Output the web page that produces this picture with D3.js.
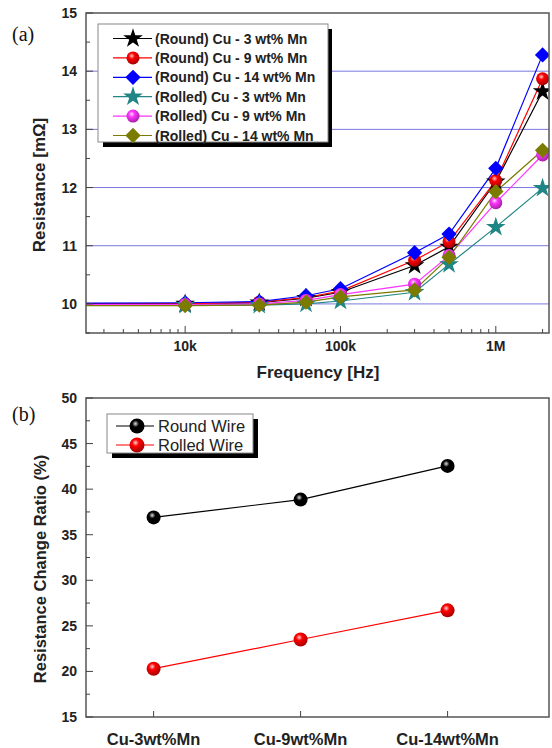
<!DOCTYPE html>
<html>
  <head>
    <meta charset="utf-8">
    <title>Resistance vs Frequency</title>
    <style>
      body { margin: 0; background: #fff; }
      svg text { font-family: Arial, 'Liberation Sans', sans-serif; }
      .tick-label { font-size: 14px; font-weight: bold; fill: #222; }
      .axis-title { font-size: 17px; font-weight: bold; fill: #222; }
      .panel-tag { font-family: 'Liberation Serif', 'DejaVu Serif', serif !important; font-size: 20px; fill: #111; }
      .legend-a { font-size: 14px; font-weight: bold; fill: #222; }
      .legend-b { font-size: 16.5px; fill: #222; }
    </style>
  </head>
  <body>
    <svg width="552" height="748"></svg>
    <script src="https://d3js.org/d3.v7.min.js"></script>
    <script>
      // ---- data: panel (a)
      const freqs = [1000, 10000, 30000, 60000, 100000, 300000, 500000, 1000000, 2000000];
      const seriesNames = [
        '(Round) Cu - 3 wt% Mn', '(Round) Cu - 9 wt% Mn', '(Round) Cu - 14 wt% Mn',
        '(Rolled) Cu - 3 wt% Mn', '(Rolled) Cu - 9 wt% Mn', '(Rolled) Cu - 14 wt% Mn'
      ];
      const round3  = [10.0, 10.0, 10.02, 10.1, 10.2, 10.66, 10.98, 12.1, 13.65];
      const round9  = [10.0, 10.0, 10.03, 10.11, 10.22, 10.75, 11.07, 12.12, 13.87];
      const round14 = [10.01, 10.02, 10.04, 10.14, 10.26, 10.88, 11.2, 12.33, 14.28];
      const rolled3  = [9.98, 9.98, 9.98, 10.0, 10.05, 10.2, 10.68, 11.32, 11.99];
      const rolled9  = [9.99, 9.99, 10.0, 10.06, 10.16, 10.34, 10.83, 11.74, 12.56];
      const rolled14 = [9.97, 9.97, 9.98, 10.03, 10.12, 10.24, 10.8, 11.93, 12.64];
      const freqTicks = [10000, 100000, 1000000];
      const freqTickLabels = ['10k', '100k', '1M'];
      const resTicks = [10, 11, 12, 13, 14, 15];

      // ---- data: panel (b)
      const alloys = ['Cu-3wt%Mn', 'Cu-9wt%Mn', 'Cu-14wt%Mn'];
      const roundRatio = [36.9, 38.85, 42.55];
      const rolledRatio = [20.3, 23.5, 26.7];
      const wireNames = ['Round Wire', 'Rolled Wire'];
      const ratioTicks = [15, 20, 25, 30, 35, 40, 45, 50];

      const svg = d3.select('svg');
      const defs = svg.append('defs');

      // glossy ball gradients
      const ballColors = { black: ['#ddd', '#000'], red: ['#ffd0d0', '#ff0000'], magenta: ['#ffe0ff', '#ff33ff'] };
      Object.entries(ballColors).forEach(([k, c]) => {
        const g = defs.append('radialGradient').attr('id', 'ball-' + k)
          .attr('cx', '40%').attr('cy', '35%').attr('r', '65%');
        g.append('stop').attr('offset', '0%').attr('stop-color', c[0]);
        g.append('stop').attr('offset', '35%').attr('stop-color', c[1]);
        g.append('stop').attr('offset', '100%').attr('stop-color', d3.color(c[1]).darker(1.2));
      });

      const star = d3.symbol().type(d3.symbolStar).size(120);
      const diamond = d3.symbol().type(d3.symbolDiamond2).size(150);

      function drawMarker(g, kind, color, ball, x, y, r) {
        if (kind === 'star') {
          g.append('path').attr('d', star()).attr('transform', `translate(${x},${y})`).attr('fill', color);
        } else if (kind === 'diamond') {
          g.append('path').attr('d', diamond()).attr('transform', `translate(${x},${y})`).attr('fill', color);
        } else {
          g.append('circle').attr('cx', x).attr('cy', y).attr('r', r || 6)
            .attr('fill', `url(#ball-${ball})`);
        }
      }

      // ================= panel (a)
      const A = { left: 86, right: 549, top: 13, bottom: 333 };
      const xA = d3.scaleLog().domain([2300, 2200000]).range([A.left, A.right]);
      const yA = d3.scaleLinear().domain([9.5, 15]).range([A.bottom, A.top]);

      const pa = svg.append('g');
      defs.append('clipPath').attr('id', 'clipA').append('rect')
        .attr('x', A.left).attr('y', A.top).attr('width', A.right - A.left).attr('height', A.bottom - A.top);

      // grid
      pa.selectAll('line.grid').data(resTicks.filter(d => d < 15)).enter().append('line')
        .attr('x1', A.left).attr('x2', A.right)
        .attr('y1', d => yA(d)).attr('y2', d => yA(d))
        .attr('stroke', '#7878e0').attr('stroke-width', 1);

      const seriesA = [
        { vals: round3, color: '#000000', kind: 'star' },
        { vals: round9, color: '#ff0000', kind: 'ball', ball: 'red' },
        { vals: round14, color: '#0000ff', kind: 'diamond' },
        { vals: rolled3, color: '#208585', kind: 'star' },
        { vals: rolled9, color: '#ff33ff', kind: 'ball', ball: 'magenta' },
        { vals: rolled14, color: '#7b7b00', kind: 'diamond' }
      ];
      const lineA = d3.line().x((d, i) => xA(freqs[i])).y(d => yA(d));
      const plotA = pa.append('g').attr('clip-path', 'url(#clipA)');
      seriesA.forEach(s => {
        plotA.append('path').attr('d', lineA(s.vals)).attr('fill', 'none')
          .attr('stroke', s.color).attr('stroke-width', 1.2);
      });
      seriesA.forEach(s => {
        const g = plotA.append('g');
        s.vals.forEach((v, i) => drawMarker(g, s.kind, s.color, s.ball, xA(freqs[i]), yA(v), 6.5));
      });

      // frame
      pa.append('rect').attr('x', A.left).attr('y', A.top)
        .attr('width', A.right - A.left).attr('height', A.bottom - A.top)
        .attr('fill', 'none').attr('stroke', '#555').attr('stroke-width', 1.5);

      // y ticks
      const yMinorA = d3.range(9.5, 15.01, 0.5);
      pa.selectAll('line.yt').data(yMinorA).enter().append('line')
        .attr('x1', A.left).attr('x2', d => A.left + (d % 1 === 0 ? 7 : 4))
        .attr('y1', d => yA(d)).attr('y2', d => yA(d)).attr('stroke', '#444');
      pa.selectAll('text.yl').data(resTicks).enter().append('text')
        .attr('class', 'tick-label').attr('x', A.left - 9).attr('y', d => yA(d) + 5)
        .attr('text-anchor', 'end').text(d => d);

      // x ticks
      const xMinorA = [];
      [1000, 10000, 100000, 1000000].forEach(dec => {
        for (let k = 1; k < 10; k++) {
          const f = dec * k;
          if (f >= 2300 && f <= 2200000) xMinorA.push(f);
        }
      });
      pa.selectAll('line.xt').data(xMinorA).enter().append('line')
        .attr('x1', d => xA(d)).attr('x2', d => xA(d))
        .attr('y1', A.bottom).attr('y2', d => A.bottom - (freqTicks.includes(d) ? 7 : 4))
        .attr('stroke', '#444');
      pa.selectAll('text.xl').data(freqTicks).enter().append('text')
        .attr('class', 'tick-label').attr('x', d => xA(d)).attr('y', A.bottom + 18)
        .attr('text-anchor', 'middle').text((d, i) => freqTickLabels[i]);

      pa.append('text').attr('class', 'axis-title').attr('x', 318).attr('y', 378)
        .attr('text-anchor', 'middle').text('Frequency [Hz]');
      pa.append('text').attr('class', 'axis-title')
        .attr('transform', 'translate(45,185) rotate(-90)')
        .attr('text-anchor', 'middle').text('Resistance [mΩ]');
      pa.append('text').attr('class', 'panel-tag').attr('x', 12).attr('y', 41).text('(a)');

      // legend (a)
      const la = pa.append('g');
      la.append('rect').attr('x', 103).attr('y', 29).attr('width', 229).attr('height', 118).attr('fill', '#000');
      la.append('rect').attr('x', 98).attr('y', 24).attr('width', 230).attr('height', 118)
        .attr('fill', '#fff').attr('stroke', '#888').attr('stroke-width', 1);
      seriesA.forEach((s, i) => {
        const y = 38.5 + i * 19.4;
        la.append('line').attr('x1', 113).attr('x2', 152).attr('y1', y).attr('y2', y)
          .attr('stroke', s.color).attr('stroke-width', 1.2);
        drawMarker(la, s.kind, s.color, s.ball, 133, y, 6.5);
        la.append('text').attr('class', 'legend-a').attr('x', 155).attr('y', y + 5).text(seriesNames[i]);
      });

      // ================= panel (b)
      const B = { left: 86, right: 549, top: 398, bottom: 717 };
      const xB = d3.scaleLinear().domain([0.54, 3.69]).range([B.left, B.right]);
      const yB = d3.scaleLinear().domain([15, 50]).range([B.bottom, B.top]);
      const pb = svg.append('g');

      const seriesB = [
        { vals: roundRatio, color: '#000', ball: 'black' },
        { vals: rolledRatio, color: '#ff0000', ball: 'red' }
      ];
      const lineB = d3.line().x((d, i) => xB(i + 1)).y(d => yB(d));
      seriesB.forEach(s => {
        pb.append('path').attr('d', lineB(s.vals)).attr('fill', 'none')
          .attr('stroke', s.color).attr('stroke-width', 1.2);
        s.vals.forEach((v, i) => drawMarker(pb, 'ball', s.color, s.ball, xB(i + 1), yB(v), 7));
      });

      pb.append('rect').attr('x', B.left).attr('y', B.top)
        .attr('width', B.right - B.left).attr('height', B.bottom - B.top)
        .attr('fill', 'none').attr('stroke', '#555').attr('stroke-width', 1.5);

      const yMinorB = d3.range(15, 50.01, 2.5);
      pb.selectAll('line.yt').data(yMinorB).enter().append('line')
        .attr('x1', B.left).attr('x2', d => B.left + (d % 5 === 0 ? 7 : 4))
        .attr('y1', d => yB(d)).attr('y2', d => yB(d)).attr('stroke', '#444');
      pb.selectAll('text.yl').data(ratioTicks).enter().append('text')
        .attr('class', 'tick-label').attr('x', B.left - 9).attr('y', d => yB(d) + 5)
        .attr('text-anchor', 'end').text(d => d);

      pb.selectAll('line.xt').data(alloys).enter().append('line')
        .attr('x1', (d, i) => xB(i + 1)).attr('x2', (d, i) => xB(i + 1))
        .attr('y1', B.bottom).attr('y2', B.bottom - 6).attr('stroke', '#444');
      pb.selectAll('text.xl').data(alloys).enter().append('text')
        .attr('class', 'tick-label').style('font-size', '16.5px')
        .attr('x', (d, i) => xB(i + 1)).attr('y', 745)
        .attr('text-anchor', 'middle').text(d => d);

      pb.append('text').attr('class', 'axis-title').style('font-size', '16.5px')
        .attr('transform', 'translate(46,569) rotate(-90)')
        .attr('text-anchor', 'middle').text('Resistance Change Ratio (%)');
      pb.append('text').attr('class', 'panel-tag').attr('x', 12).attr('y', 421).text('(b)');

      // legend (b)
      const lb = pb.append('g');
      lb.append('rect').attr('x', 112).attr('y', 419).attr('width', 146).attr('height', 39).attr('fill', '#000');
      lb.append('rect').attr('x', 107).attr('y', 414).attr('width', 146).attr('height', 39)
        .attr('fill', '#fff').attr('stroke', '#888').attr('stroke-width', 1);
      seriesB.forEach((s, i) => {
        const y = 426 + i * 19;
        lb.append('line').attr('x1', 116).attr('x2', 154).attr('y1', y).attr('y2', y)
          .attr('stroke', s.color).attr('stroke-width', 1.2);
        drawMarker(lb, 'ball', s.color, s.ball, 137, y, 7.5);
        lb.append('text').attr('class', 'legend-b').attr('x', 158).attr('y', y + 6).text(wireNames[i]);
      });
    </script>
  </body>
</html>
